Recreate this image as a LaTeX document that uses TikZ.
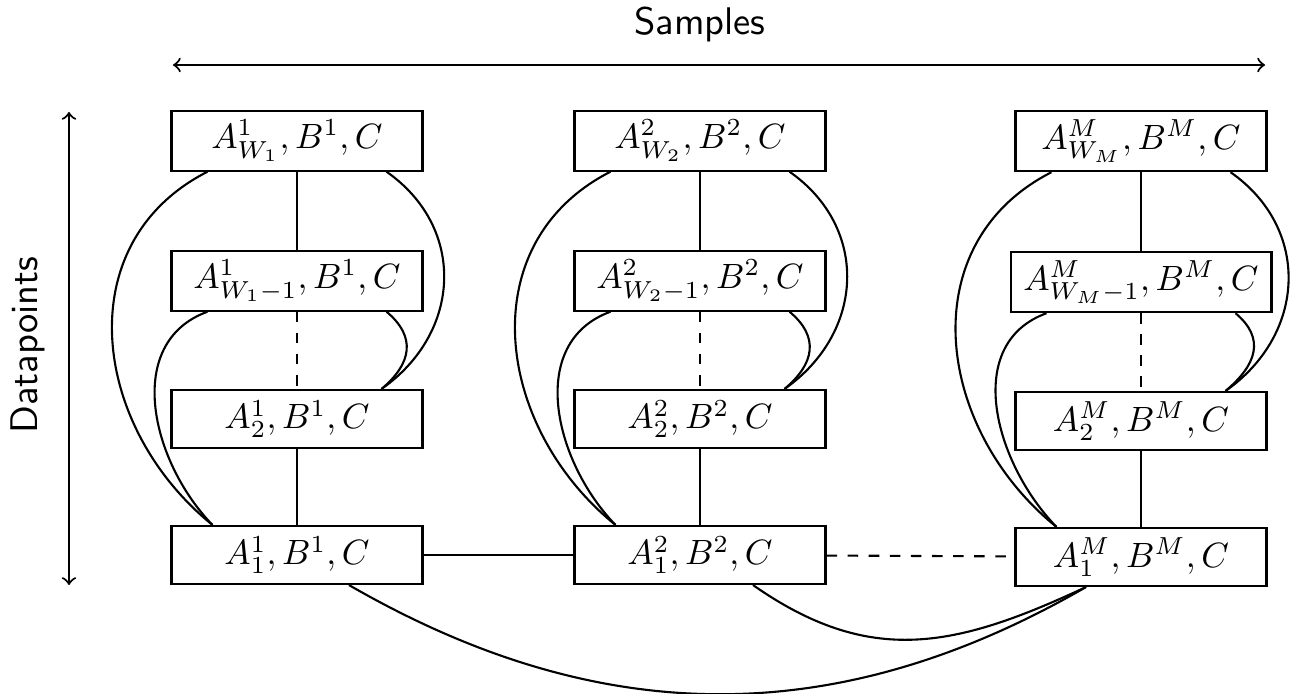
\RequirePackage{fix-cm}
\documentclass[11pt,tikz,border=0pt]{standalone}
\usepackage{amsmath}

\begin{document}
\begin{tikzpicture}[semithick,
    cell/.style={draw, minimum width=2.51cm, minimum height=0.58cm, inner ysep=2.5pt,
        font=\fontsize{10}{12}\selectfont},
    axis/.style={font=\sffamily},
    bigleft/.style={out=207, in=141, looseness=1.13},
    smallleft/.style={out=200, in=134, looseness=1.07},
    bigright/.style={out=-35, in=35, looseness=1.15},
    smallright/.style={out=-40, in=40, looseness=1.3}]
\useasboundingbox (0,0) rectangle (12.93,6.94);

    \node[axis] (samples) at (7.0,6.70) {Samples};
    \node[axis,rotate=90] (datapoints) at (0.28,3.49) {Datapoints};
    \coordinate (sleft) at (1.73,6.29);
    \coordinate (sright) at (12.65,6.29);
    \coordinate (dtop) at (0.69,5.82);
    \coordinate (dbot) at (0.69,1.09);

    % first sample
    \node[cell] (top1) at (2.97,5.53) {$A^1_{W_1}, B^1, C$};
    \node[cell] (next1) at (2.97,4.13) {$A^1_{W_1-1}, B^1, C$};
    \node[cell] (two1) at (2.97,2.75) {$A^1_2, B^1, C$};
    \node[cell] (one1) at (2.97,1.39) {$A^1_1, B^1, C$};

    % second sample
    \node[cell] (top2) at (7.00,5.53) {$A^2_{W_2}, B^2, C$};
    \node[cell] (next2) at (7.00,4.13) {$A^2_{W_2-1}, B^2, C$};
    \node[cell] (two2) at (7.00,2.75) {$A^2_2, B^2, C$};
    \node[cell] (one2) at (7.00,1.39) {$A^2_1, B^2, C$};

    % last sample
    \node[cell] (top3) at (11.41,5.53) {$A^M_{W_M}, B^M, C$};
    \node[cell] (next3) at (11.41,4.12) {$A^M_{W_M-1}, B^M, C$};
    \node[cell] (two3) at (11.41,2.73) {$A^M_2, B^M, C$};
    \node[cell] (one3) at (11.41,1.37) {$A^M_1, B^M, C$};

\draw (top1) -- (next1);
\draw[dashed] (next1) -- (two1);
\draw (two1) -- (one1);
\draw ([xshift=0.37cm]top1.south west) to[bigleft] ([xshift=0.42cm]one1.north west);
\draw ([xshift=0.37cm]next1.south west) to[smallleft] ([xshift=0.42cm]one1.north west);
\draw ([xshift=-0.37cm]top1.south east) to[bigright] ([xshift=-0.42cm]two1.north east);
\draw ([xshift=-0.37cm]next1.south east) to[smallright] ([xshift=-0.42cm]two1.north east);

\draw (top2) -- (next2);
\draw[dashed] (next2) -- (two2);
\draw (two2) -- (one2);
\draw ([xshift=0.37cm]top2.south west) to[bigleft] ([xshift=0.42cm]one2.north west);
\draw ([xshift=0.37cm]next2.south west) to[smallleft] ([xshift=0.42cm]one2.north west);
\draw ([xshift=-0.37cm]top2.south east) to[bigright] ([xshift=-0.42cm]two2.north east);
\draw ([xshift=-0.37cm]next2.south east) to[smallright] ([xshift=-0.42cm]two2.north east);

\draw (top3) -- (next3);
\draw[dashed] (next3) -- (two3);
\draw (two3) -- (one3);
\draw ([xshift=0.37cm]top3.south west) to[bigleft] ([xshift=0.42cm]one3.north west);
\draw ([xshift=0.37cm]next3.south west) to[smallleft] ([xshift=0.42cm]one3.north west);
\draw ([xshift=-0.37cm]top3.south east) to[bigright] ([xshift=-0.42cm]two3.north east);
\draw ([xshift=-0.37cm]next3.south east) to[smallright] ([xshift=-0.42cm]two3.north east);

\draw (one1) -- (one2);
\draw[dashed] (one2) -- (one3);
\draw ([xshift=0.52cm]one1.south) to[out=-30, in=-150, looseness=1] ([xshift=-0.55cm]one3.south);
\draw ([xshift=0.53cm]one2.south) to[out=-35, in=-155, looseness=1.1] ([xshift=-0.55cm]one3.south);

\draw[<->] (sleft) -- (sright);
\draw[<->] (dtop) -- (dbot);
\end{tikzpicture}
\end{document}
